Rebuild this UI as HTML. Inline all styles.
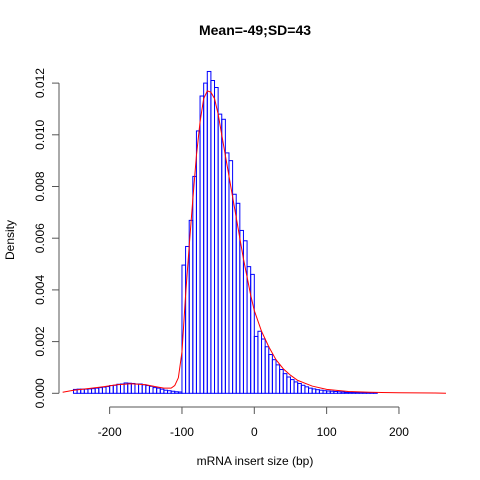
<!DOCTYPE html>
<html><head><meta charset="utf-8"><style>
body{margin:0;background:#fff}
svg{display:block;font-family:"Liberation Sans",sans-serif}
</style></head><body>
<svg id="c" width="480" height="480">
<text x="255" y="35" text-anchor="middle" font-size="14" font-weight="bold">Mean=-49;SD=43</text>
<text x="255" y="465" text-anchor="middle" font-size="12">mRNA insert size (bp)</text>
<text transform="translate(14,240) rotate(-90)" text-anchor="middle" font-size="12">Density</text>
<g id="bars"></g>
<g id="axes"></g>
</svg>
<script>
const binStart = -250;
const binWidth = 5;
const densities = [
0.00015,0.00016,0.00016,0.00016,0.00017,0.00018,0.0002,0.00022,0.00024,0.00026,
0.0003,0.00031,0.00035,0.00036,0.0004,0.00039,0.00038,0.00036,0.00036,0.00033,
0.0003,0.00027,0.00022,0.0002,0.00016,0.00012,0.0001,0.00008,0.00006,0.00005,
0.00496,0.00568,0.00669,0.00839,0.01015,0.0115,0.0120,0.01245,0.0121,0.01183,
0.0108,0.0106,0.0093,0.0090,0.0077,0.00735,0.0063,0.0059,0.0049,0.0046,
0.0022,0.0024,0.0021,0.0018,0.0015,0.0013,0.0011,0.00092,0.00076,0.00063,
0.00053,0.00044,0.00038,0.00031,0.00025,0.0002,0.00017,0.00014,0.00012,0.0001,
0.00009,0.00008,0.00007,0.00006,0.00005,0.00004,0.00004,0.00003,0.00003,0.00002,
0.00002,0.00002,0.00001,0.00001
];
const curveX = [-265,-250,-230,-210,-190,-170,-150,-135,-125,-115,-110,-105,-100,-95,-90,-85,-80,-75,-70,-65,-60,-55,-50,-45,-40,-35,-30,-25,-20,-15,-10,-5,0,10,20,30,40,50,60,80,100,130,160,200,250,265];
const curveY = [0.00004,0.00012,0.00018,0.00025,0.00033,0.00037,0.00033,0.00025,0.0002,0.0002,0.0003,0.0006,0.0016,0.0038,0.0057,0.0075,0.0092,0.0105,0.0114,0.0117,0.01165,0.0114,0.0108,0.0100,0.0092,0.0084,0.0076,0.0068,0.0060,0.0052,0.0045,0.0038,0.0032,0.0024,0.0018,0.0013,0.00095,0.0007,0.0005,0.00028,0.00015,0.00007,0.00004,0.00002,0.00001,0];
const xTicks = [-200,-100,0,100,200];
const yTicks = [0,0.002,0.004,0.006,0.008,0.010,0.012];
const yTickLabels = ["0.000","0.002","0.004","0.006","0.008","0.010","0.012"];

const NS="http://www.w3.org/2000/svg";
const X = v => 254.3 + v*0.7233;
const Y = d => 393.3 - d*25850;
function mk(tag, attrs, parent){const e=document.createElementNS(NS,tag);for(const k in attrs)e.setAttribute(k,attrs[k]);parent.appendChild(e);return e;}
const bars=document.getElementById('bars');
densities.forEach((d,i)=>{
  const x0=X(binStart+i*binWidth), x1=X(binStart+(i+1)*binWidth);
  const r=mk('rect',{x:x0,y:Y(d),width:x1-x0,height:Y(0)-Y(d),fill:'none',stroke:'#0000ff','stroke-width':1},bars);
  
  
});
const pts=curveX.map((x,i)=>X(x).toFixed(2)+','+Y(curveY[i]).toFixed(2)).join(' ');
const line=mk('polyline',{points:pts,fill:'none',stroke:'#ff0000','stroke-width':1},document.getElementById('c'));


const ax=document.getElementById('axes');
mk('line',{x1:X(xTicks[0]),x2:X(xTicks[xTicks.length-1]),y1:407,y2:407,stroke:'#555'},ax);
xTicks.forEach(t=>{
  mk('line',{x1:X(t),x2:X(t),y1:407,y2:414,stroke:'#555'},ax);
  const tx=mk('text',{x:X(t),y:436,'text-anchor':'middle','font-size':12},ax);
  tx.textContent=t;
  
  
});
mk('line',{x1:59,x2:59,y1:Y(yTicks[yTicks.length-1]),y2:Y(0),stroke:'#555'},ax);
yTicks.forEach((t,i)=>{
  mk('line',{x1:52,x2:59,y1:Y(t),y2:Y(t),stroke:'#555'},ax);
  const tx=mk('text',{transform:`translate(44,${Y(t)}) rotate(-90)`,'text-anchor':'middle','font-size':12},ax);
  tx.textContent=yTickLabels[i];
  
  
});
</script>
</body></html>
